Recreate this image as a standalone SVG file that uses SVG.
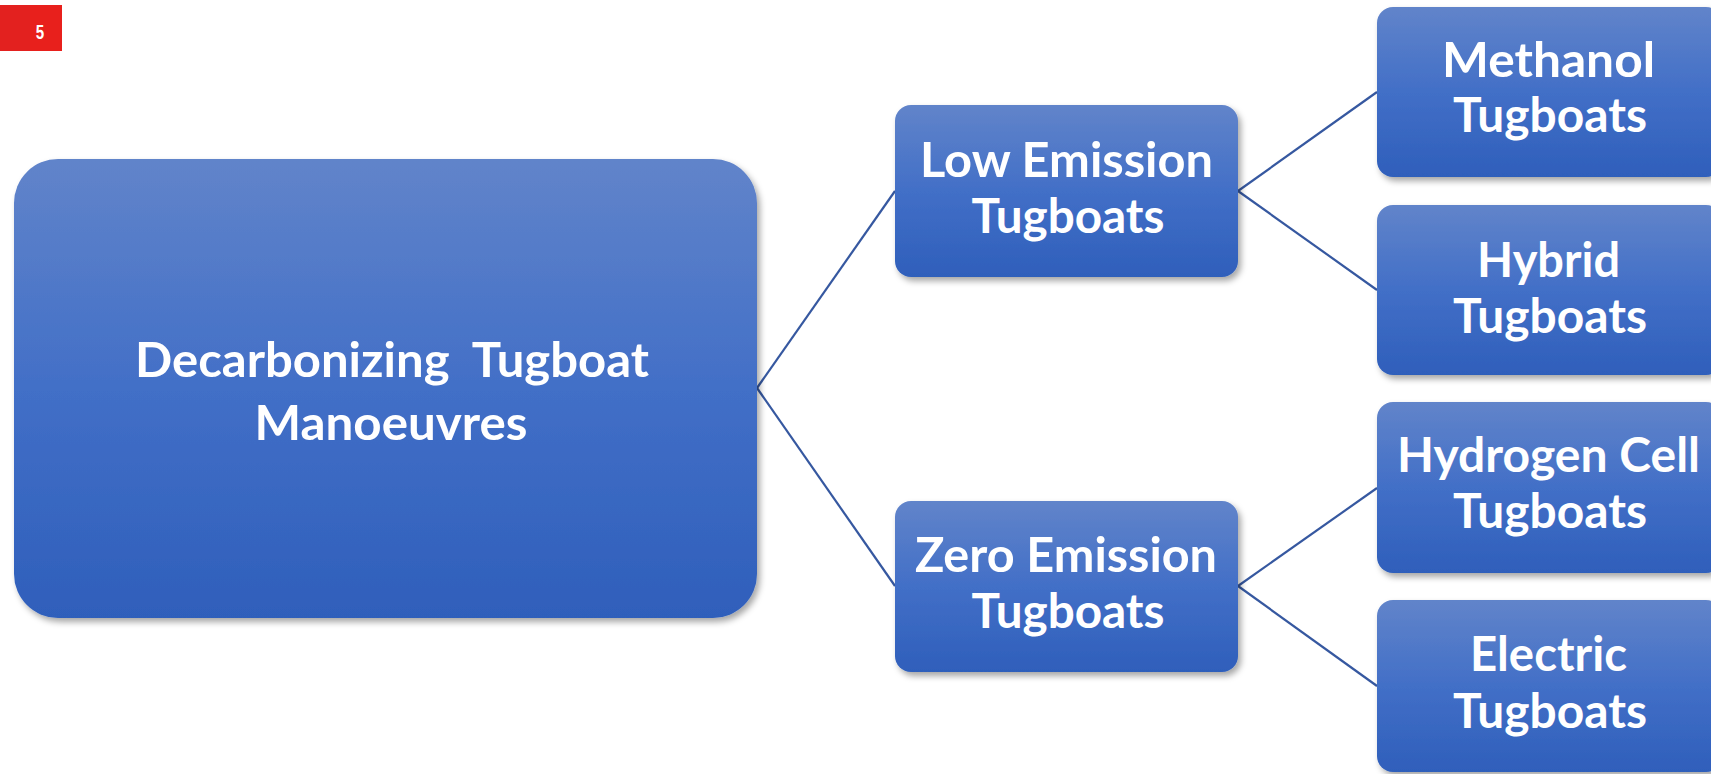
<svg xmlns="http://www.w3.org/2000/svg" width="1711" height="774" viewBox="0 0 1711 774">
  <defs>
    <linearGradient id="boxGrad" x1="0" y1="0" x2="0" y2="1">
      <stop offset="0" stop-color="#6184ca"/>
      <stop offset="0.5" stop-color="#426fc7"/>
      <stop offset="1" stop-color="#2f5fbb"/>
    </linearGradient>
    <filter id="shadow" x="-10%" y="-10%" width="125%" height="130%">
      <feDropShadow dx="3" dy="4" stdDeviation="3" flood-color="#000" flood-opacity="0.35"/>
    </filter>
  </defs>
  <style>
    .box { fill: url(#boxGrad); filter: url(#shadow); }
    .lbl { font-family: Lato, "Open Sans", "Liberation Sans", sans-serif; font-weight: bold; fill: #ffffff; text-anchor: middle; font-size: 48px; }
    .conn { stroke: #3658a0; stroke-width: 2.2; fill: none; }
  </style>
  <rect width="1711" height="774" fill="#ffffff"/>

  <g id="badge">
    <rect x="0" y="5" width="62" height="46" fill="#e3211f"/>
    <rect x="30" y="5" width="32" height="46" fill="#e8201c"/>
    <text x="40" y="39" font-family="Liberation Sans, sans-serif" font-weight="bold" font-size="21" fill="#ffffff" text-anchor="middle" transform="translate(40 0) scale(0.72 1) translate(-40 0)">5</text>
  </g>

  <g id="connectors">
    <line class="conn" x1="757" y1="388" x2="895" y2="191"/>
    <line class="conn" x1="757" y1="388" x2="895" y2="586"/>
    <line class="conn" x1="1238" y1="191" x2="1377" y2="92"/>
    <line class="conn" x1="1238" y1="191" x2="1377" y2="290"/>
    <line class="conn" x1="1238" y1="586" x2="1377" y2="488"/>
    <line class="conn" x1="1238" y1="586" x2="1377" y2="686"/>
  </g>

  <g id="node-main">
    <rect class="box" x="14" y="159" width="743" height="459" rx="44" ry="44"/>
    <text class="lbl" x="392" y="377" font-size="50" xml:space="preserve" textLength="514" lengthAdjust="spacingAndGlyphs">Decarbonizing  Tugboat</text>
    <text class="lbl" x="391" y="440" font-size="50" textLength="273" lengthAdjust="spacingAndGlyphs">Manoeuvres</text>
  </g>

  <g id="node-low">
    <rect class="box" x="895" y="105" width="343" height="172" rx="16" ry="16"/>
    <text class="lbl" x="1066.5" y="177" textLength="293" lengthAdjust="spacingAndGlyphs">Low Emission</text>
    <text class="lbl" x="1068" y="233" textLength="193" lengthAdjust="spacingAndGlyphs">Tugboats</text>
  </g>

  <g id="node-zero">
    <rect class="box" x="895" y="501" width="343" height="171" rx="16" ry="16"/>
    <text class="lbl" x="1066" y="572" textLength="302" lengthAdjust="spacingAndGlyphs">Zero Emission</text>
    <text class="lbl" x="1068" y="628" textLength="193" lengthAdjust="spacingAndGlyphs">Tugboats</text>
  </g>

  <g id="node-methanol">
    <rect class="box" x="1377" y="7" width="345" height="170" rx="16" ry="16"/>
    <text class="lbl" x="1548.5" y="77" textLength="213" lengthAdjust="spacingAndGlyphs">Methanol</text>
    <text class="lbl" x="1550" y="132" textLength="194" lengthAdjust="spacingAndGlyphs">Tugboats</text>
  </g>

  <g id="node-hybrid">
    <rect class="box" x="1377" y="205" width="345" height="170" rx="16" ry="16"/>
    <text class="lbl" x="1548.5" y="277" textLength="143" lengthAdjust="spacingAndGlyphs">Hybrid</text>
    <text class="lbl" x="1550" y="333" textLength="194" lengthAdjust="spacingAndGlyphs">Tugboats</text>
  </g>

  <g id="node-hydrogen">
    <rect class="box" x="1377" y="402" width="345" height="171" rx="16" ry="16"/>
    <text class="lbl" x="1548.5" y="472" textLength="303" lengthAdjust="spacingAndGlyphs">Hydrogen Cell</text>
    <text class="lbl" x="1550" y="528" textLength="194" lengthAdjust="spacingAndGlyphs">Tugboats</text>
  </g>

  <g id="node-electric">
    <rect class="box" x="1377" y="600" width="345" height="172" rx="16" ry="16"/>
    <text class="lbl" x="1548.5" y="671" textLength="157" lengthAdjust="spacingAndGlyphs">Electric</text>
    <text class="lbl" x="1550" y="728" textLength="194" lengthAdjust="spacingAndGlyphs">Tugboats</text>
  </g>
</svg>
